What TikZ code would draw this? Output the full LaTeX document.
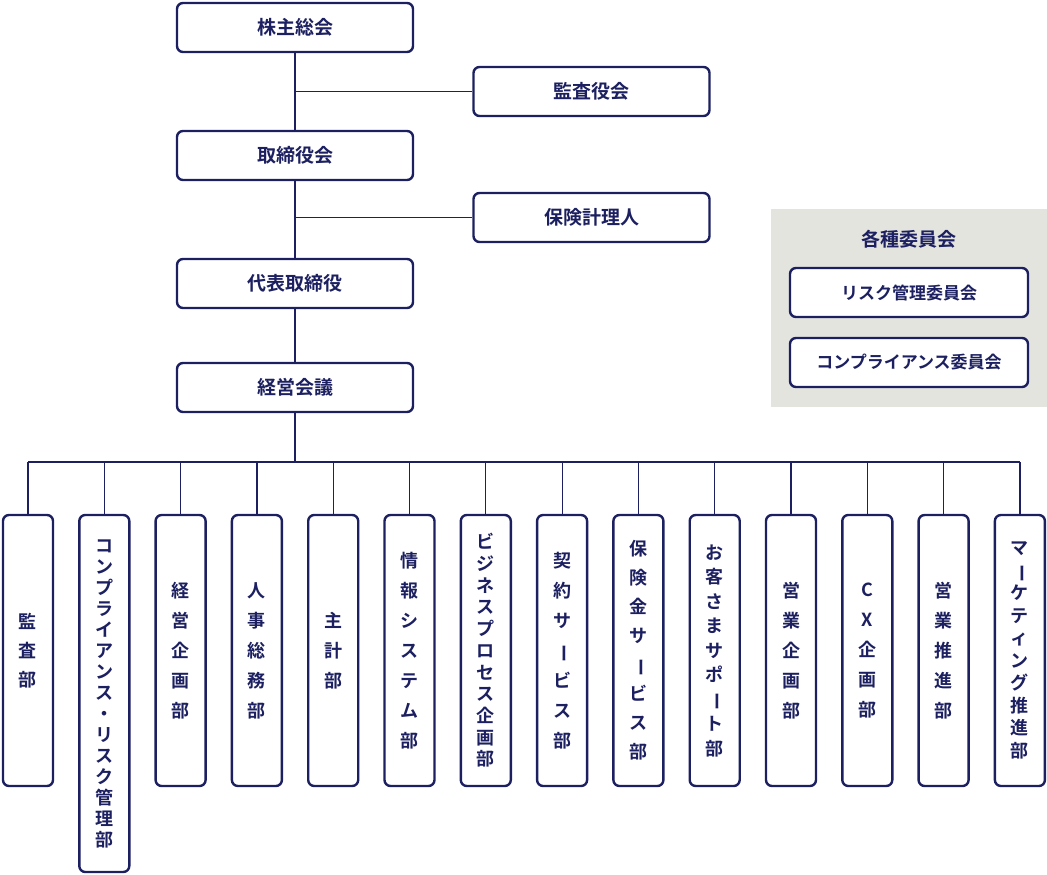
\documentclass[tikz,border=0pt]{standalone}
\usepackage{fontspec}
\setmainfont{Noto Sans CJK JP}[BoldFont={Noto Sans CJK JP Bold}]
\usetikzlibrary{positioning}
\definecolor{navy}{HTML}{1C2060}
\definecolor{panel}{HTML}{E4E4DE}
\newcommand\vb{\rotatebox[origin=c]{-90}{ー}}
\begin{document}
\begin{tikzpicture}
    [x=1pt, y=-1pt, line width=1.2pt, draw=navy, text=navy,
     box/.style={draw=navy, line width=2.4pt, rounded corners=6pt, fill=white, minimum width=236pt, minimum height=49pt, font=\fontsize{19}{22}\selectfont\bfseries},
     sbox/.style={box, minimum width=238pt, font=\fontsize{17}{20}\selectfont\bfseries},
     dept/.style={draw=navy, line width=2.4pt, rounded corners=6pt, fill=white, minimum width=50pt, minimum height=271pt, align=center, inner sep=0pt, font=\fontsize{18}{#1}\selectfont\bfseries},
     dept/.default=30,
     link/.style={navy, line width=1.2pt}]
    \useasboundingbox (0,0) rectangle (1047,875);
    \fill[panel] (771,209) rectangle (1047,407);
    % top column
    \node[box] (kabu) at (295,27.5) {株主総会};
    \node[box] (kansa) at (591.5,91.5) {監査役会};
    \node[box] (tori) at (295,155.5) {取締役会};
    \node[box] (hoken) at (591.5,217.5) {保険計理人};
    \node[box] (daihyo) at (295,283.5) {代表取締役};
    \node[box] (keiei) at (295,387.5) {経営会議};
    \draw[link] (kabu) -- (tori);
    \draw[link] (tori) -- (daihyo);
    \draw[link] (daihyo) -- (keiei);
    \draw[link] (kansa.west) -- (kansa.west -| kabu.south);
    \draw[link] (hoken.west) -- (hoken.west -| kabu.south);
    % committees
    \node[font=\fontsize{19}{22}\selectfont\bfseries, text=navy] (iinkai) at (909,239) {各種委員会};
    \node[sbox] (risk) at (909,292.5) {リスク管理委員会};
    \node[sbox] (comp) at (909,362.5) {コンプライアンス委員会};
    % departments
    \coordinate (bus) at (295,462);
    \node[dept=29] (d1) at (28,650.5) {監\\査\\部};
    \node[dept=21, minimum height=357pt] (d2) at (104.3,693.5) {コ\\ン\\プ\\ラ\\イ\\ア\\ン\\ス\\・\\リ\\ス\\ク\\管\\理\\部};
    \node[dept] (d3) at (180.6,650.5) {経\\営\\企\\画\\部};
    \node[dept] (d4) at (256.9,650.5) {人\\事\\総\\務\\部};
    \node[dept] (d5) at (333.2,650.5) {主\\計\\部};
    \node[dept] (d6) at (409.5,650.5) {情\\報\\シ\\ス\\テ\\ム\\部};
    \node[dept=21.7] (d7) at (485.8,650.5) {ビ\\ジ\\ネ\\ス\\プ\\ロ\\セ\\ス\\企\\画\\部};
    \node[dept] (d8) at (562.1,650.5) {契\\約\\サ\\\vb\\ビ\\ス\\部};
    \node[dept=29] (d9) at (638.4,650.5) {保\\険\\金\\サ\\\vb\\ビ\\ス\\部};
    \node[dept=24.5] (d10) at (714.7,650.5) {お\\客\\さ\\ま\\サ\\ポ\\\vb\\ト\\部};
    \node[dept] (d11) at (791,650.5) {営\\業\\企\\画\\部};
    \node[dept] (d12) at (867.3,650.5) {C\\X\\企\\画\\部};
    \node[dept] (d13) at (943.6,650.5) {営\\業\\推\\進\\部};
    \node[dept=22.5] (d14) at (1019.9,650.5) {マ\\\vb\\ケ\\テ\\ィ\\ン\\グ\\推\\進\\部};
    \draw[link] (keiei) -- (bus);
    \draw[link] (d1.north |- bus) -- (d14.north |- bus);
    \foreach \i in {1,...,14}
        \draw[link] (d\i.north) -- (d\i.north |- bus);
\end{tikzpicture}
\end{document}
